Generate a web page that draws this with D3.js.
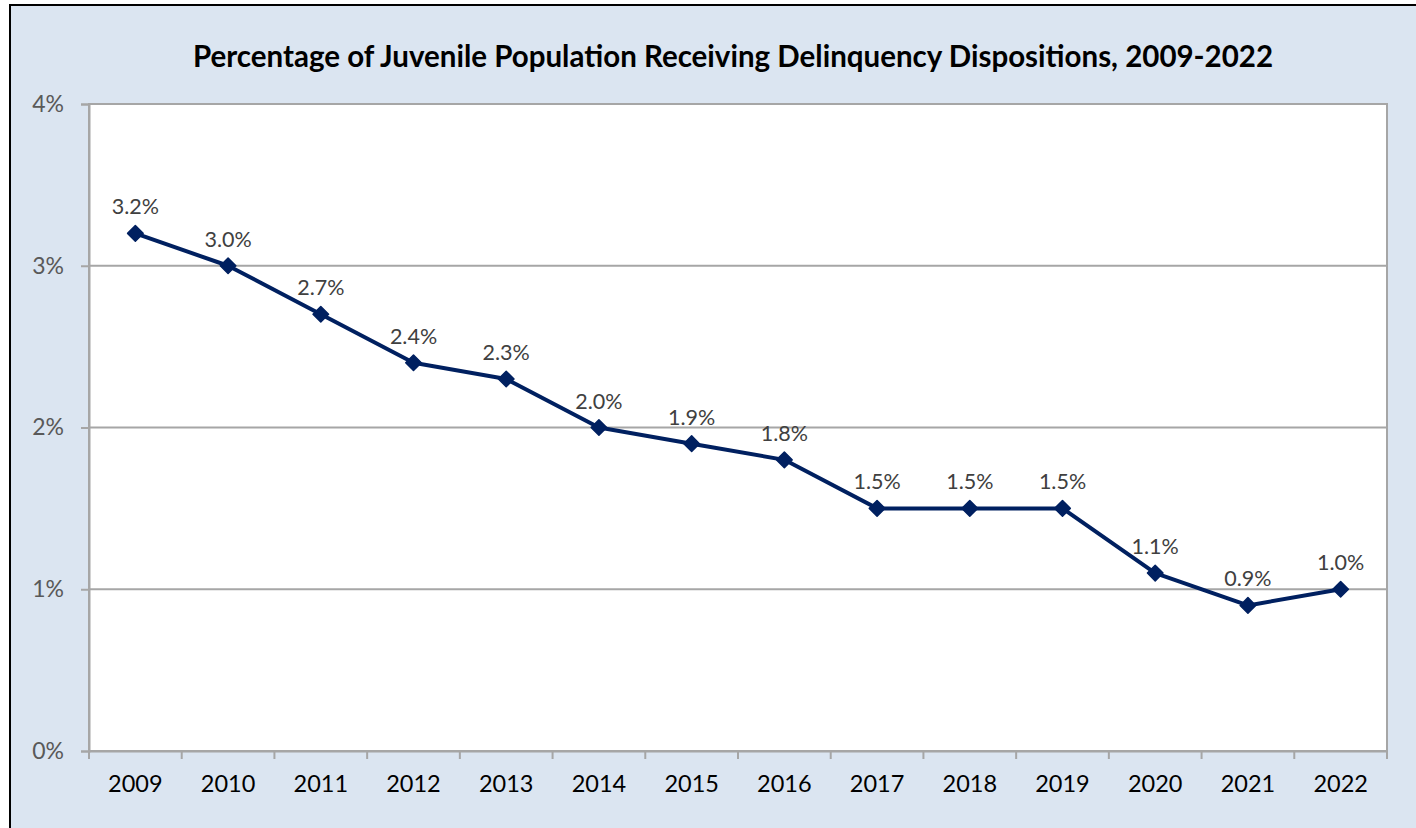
<!DOCTYPE html>
<html><head><meta charset="utf-8">
<script src="https://cdn.jsdelivr.net/npm/d3@7"></script>
<style>html,body{margin:0;padding:0;background:#fff;}svg{display:block;}</style>
</head><body>
<script>
const years = ["2009","2010","2011","2012","2013","2014","2015","2016","2017","2018","2019","2020","2021","2022"];
const values = [3.2,3.0,2.7,2.4,2.3,2.0,1.9,1.8,1.5,1.5,1.5,1.1,0.9,1.0];
const labels = ["3.2%","3.0%","2.7%","2.4%","2.3%","2.0%","1.9%","1.8%","1.5%","1.5%","1.5%","1.1%","0.9%","1.0%"];
const yTicks = [0,1,2,3,4];
const title = "Percentage of Juvenile Population Receiving Delinquency Dispositions, 2009-2022";

const W = 1416, H = 828;
const svg = d3.select("body").append("svg").attr("width", W).attr("height", H);
const font = "Lato, 'Open Sans', sans-serif";

svg.append("rect").attr("x",10).attr("y",5).attr("width",W).attr("height",H)
  .attr("fill","#dbe5f1").attr("stroke","#000").attr("stroke-width",2);

const L = 89, R = 1387, T = 104, B = 751;
const x = d3.scaleBand().domain(years).range([L,R]);
const y = d3.scaleLinear().domain([0,4]).range([B,T]);

svg.append("rect").attr("x",L).attr("y",T).attr("width",R-L).attr("height",B-T)
  .attr("fill","#fff").attr("stroke","#a6a6a6").attr("stroke-width",2);

svg.append("text").attr("x",733).attr("y",67).attr("text-anchor","middle")
  .attr("font-family",font).attr("font-weight","bold").attr("font-size",29.5)
  .attr("fill","#000").text(title);

// gridlines
svg.append("g").selectAll("line").data(yTicks.filter(d=>d>0)).join("line")
  .attr("x1",L).attr("x2",R).attr("y1",d=>y(d)).attr("y2",d=>y(d))
  .attr("stroke","#a6a6a6").attr("stroke-width",2);

// y axis
const ya = svg.append("g").attr("transform",`translate(${L},0)`)
  .call(d3.axisLeft(y).tickValues(yTicks).tickFormat(d=>d+"%").tickSize(8).tickPadding(17));
ya.select(".domain").attr("stroke","#a6a6a6").attr("stroke-width",2);
ya.selectAll(".tick line").attr("stroke","#a6a6a6").attr("stroke-width",2);
ya.selectAll("text").attr("font-family",font).attr("font-size",23).attr("fill","#595959");

// x axis
const xa = svg.append("g").attr("transform",`translate(0,${B})`)
  .call(d3.axisBottom(x).tickSize(0).tickPadding(24));
xa.select(".domain").attr("stroke","#a6a6a6").attr("stroke-width",2);
xa.selectAll("text").attr("font-family",font).attr("font-size",23.5).attr("fill","#000");
const bounds = years.map(d=>x(d)).concat([R]);
svg.append("g").selectAll("line").data(bounds).join("line")
  .attr("x1",d=>d).attr("x2",d=>d).attr("y1",B).attr("y2",B+8)
  .attr("stroke","#a6a6a6").attr("stroke-width",2);

const cx = d => x(d) + x.bandwidth()/2;
const line = d3.line().x((d,i)=>cx(years[i])).y(d=>y(d));
svg.append("path").datum(values).attr("d",line).attr("fill","none")
  .attr("stroke","#002060").attr("stroke-width",4).attr("stroke-linejoin","round");

svg.append("g").selectAll("path").data(values).join("path")
  .attr("transform",(d,i)=>`translate(${cx(years[i])},${y(d)}) rotate(45)`)
  .attr("d","M-5.5,-5.5H5.5V5.5H-5.5Z").attr("fill","#002060")
  .attr("stroke","#002060").attr("stroke-width",1.5).attr("stroke-linejoin","round");

svg.append("g").selectAll("text").data(values).join("text")
  .attr("x",(d,i)=>cx(years[i])).attr("y",d=>y(d)-19)
  .attr("text-anchor","middle").attr("font-family",font).attr("font-size",21.5)
  .attr("fill","#404040").text((d,i)=>labels[i]);
</script>
</body></html>
